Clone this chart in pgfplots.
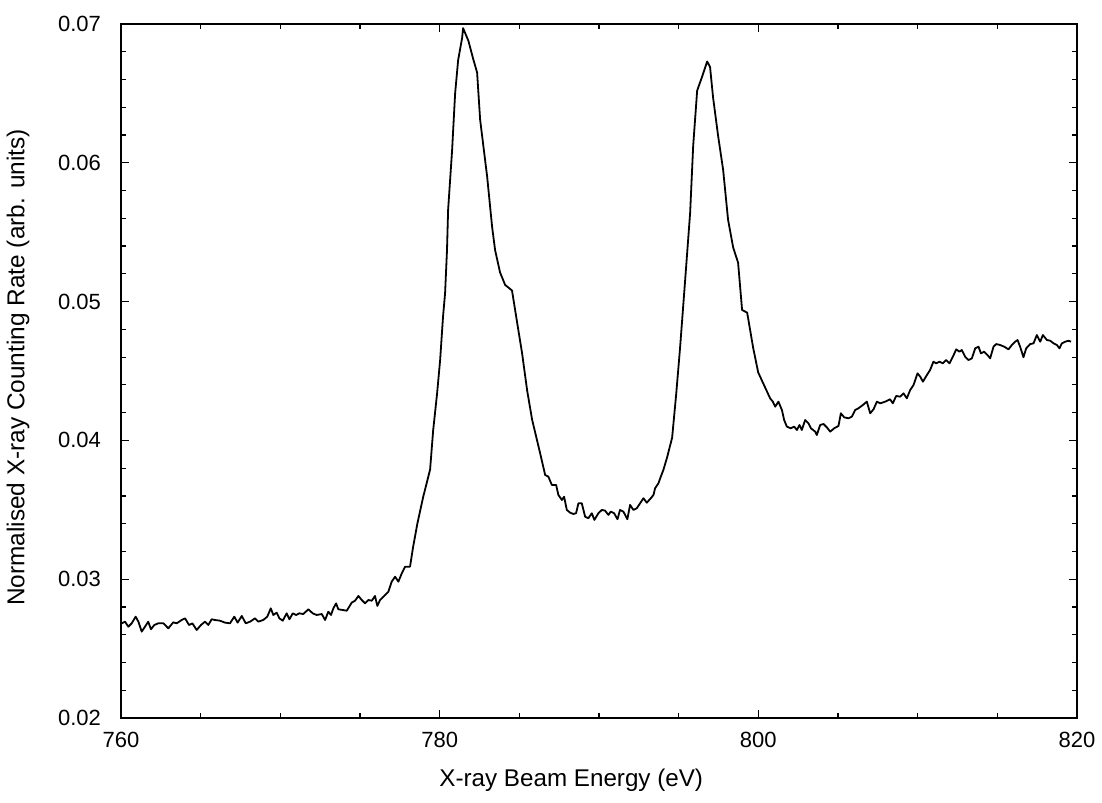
\documentclass[border=0pt]{standalone}
\usepackage{pgfplots}
\pgfplotsset{compat=1.18}
\usepackage{fontspec}
\setmainfont{Liberation Sans}
\usetikzlibrary{calc}
\pgfplotstableread{
E v
760.04 0.02682
760.25 0.02694
760.46 0.02658
760.67 0.02682
760.92 0.02730
761.09 0.02694
761.30 0.02622
761.51 0.02658
761.71 0.02694
761.88 0.02639
762.09 0.02670
762.34 0.02682
762.66 0.02682
762.97 0.02646
763.28 0.02689
763.50 0.02682
763.81 0.02706
764.02 0.02718
764.27 0.02670
764.48 0.02682
764.75 0.02634
765.02 0.02670
765.27 0.02694
765.48 0.02670
765.69 0.02711
765.90 0.02706
766.21 0.02701
766.53 0.02687
766.84 0.02682
767.11 0.02730
767.32 0.02687
767.58 0.02735
767.83 0.02682
768.10 0.02694
768.41 0.02718
768.62 0.02694
768.93 0.02706
769.18 0.02730
769.40 0.02790
769.56 0.02742
769.77 0.02759
769.94 0.02718
770.15 0.02701
770.40 0.02754
770.57 0.02711
770.78 0.02754
770.99 0.02742
771.19 0.02754
771.44 0.02749
771.76 0.02783
772.03 0.02754
772.28 0.02742
772.60 0.02749
772.81 0.02706
773.01 0.02766
773.18 0.02742
773.33 0.02790
773.50 0.02826
773.64 0.02783
773.92 0.02778
774.17 0.02773
774.48 0.02831
774.69 0.02845
774.90 0.02879
775.11 0.02850
775.32 0.02826
775.52 0.02850
775.74 0.02845
775.94 0.02879
776.09 0.02807
776.26 0.02850
776.57 0.02886
776.78 0.02910
776.99 0.02982
777.20 0.03018
777.41 0.02982
777.62 0.03042
777.83 0.03090
778.14 0.03090
778.33 0.03230
778.60 0.03400
778.96 0.03590
779.40 0.03790
779.59 0.04070
779.84 0.04340
780.03 0.04580
780.21 0.04890
780.34 0.05060
780.46 0.05370
780.53 0.05660
780.78 0.06090
780.97 0.06500
781.16 0.06740
781.41 0.06900
781.47 0.06970
781.80 0.06880
782.10 0.06750
782.35 0.06650
782.54 0.06310
782.98 0.05900
783.29 0.05540
783.48 0.05370
783.79 0.05210
784.11 0.05120
784.54 0.05080
784.86 0.04850
785.17 0.04630
785.49 0.04360
785.80 0.04150
786.30 0.03910
786.62 0.03751
786.82 0.03739
787.04 0.03679
787.31 0.03679
787.45 0.03607
787.67 0.03571
787.81 0.03594
787.98 0.03499
788.19 0.03479
788.39 0.03470
788.56 0.03475
788.71 0.03547
788.92 0.03547
789.13 0.03450
789.33 0.03439
789.55 0.03475
789.71 0.03427
789.96 0.03475
790.18 0.03499
790.38 0.03494
790.59 0.03463
790.74 0.03487
790.95 0.03475
791.16 0.03432
791.32 0.03499
791.53 0.03487
791.78 0.03432
791.95 0.03535
792.16 0.03499
792.37 0.03511
792.58 0.03547
792.79 0.03583
793.00 0.03551
793.25 0.03583
793.42 0.03607
793.52 0.03655
793.73 0.03691
793.88 0.03739
794.04 0.03787
794.28 0.03880
794.59 0.04020
794.85 0.04340
795.09 0.04670
795.41 0.05160
795.72 0.05640
795.91 0.06120
796.16 0.06520
796.47 0.06620
796.79 0.06730
796.97 0.06690
797.16 0.06470
797.48 0.06190
797.79 0.05950
798.10 0.05590
798.42 0.05390
798.73 0.05280
798.98 0.04940
799.30 0.04920
799.67 0.04670
799.99 0.04490
800.43 0.04380
800.74 0.04303
800.91 0.04279
801.06 0.04243
801.26 0.04279
801.48 0.04219
801.62 0.04147
801.79 0.04099
802.04 0.04087
802.25 0.04099
802.42 0.04075
802.58 0.04111
802.73 0.04075
802.94 0.04147
803.15 0.04123
803.30 0.04087
803.57 0.04063
803.67 0.04039
803.88 0.04111
804.09 0.04118
804.30 0.04094
804.51 0.04063
804.76 0.04087
805.03 0.04104
805.18 0.04195
805.39 0.04166
805.66 0.04159
805.87 0.04171
806.08 0.04219
806.28 0.04231
806.56 0.04255
806.81 0.04279
807.02 0.04195
807.23 0.04224
807.44 0.04279
807.65 0.04267
807.96 0.04279
808.27 0.04296
808.44 0.04267
808.65 0.04320
808.90 0.04315
809.11 0.04339
809.32 0.04303
809.53 0.04363
809.74 0.04399
809.99 0.04483
810.16 0.04459
810.33 0.04423
810.58 0.04471
810.78 0.04507
810.99 0.04567
811.16 0.04555
811.37 0.04567
811.58 0.04555
811.79 0.04579
812.00 0.04555
812.21 0.04603
812.42 0.04656
812.62 0.04639
812.77 0.04651
812.98 0.04603
813.19 0.04579
813.40 0.04591
813.61 0.04663
813.82 0.04675
813.97 0.04627
814.17 0.04639
814.38 0.04615
814.55 0.04591
814.76 0.04675
814.93 0.04694
815.18 0.04687
815.43 0.04675
815.70 0.04656
815.91 0.04687
816.12 0.04711
816.27 0.04723
816.43 0.04675
816.64 0.04599
816.81 0.04663
817.06 0.04694
817.27 0.04699
817.48 0.04759
817.69 0.04711
817.86 0.04759
818.11 0.04723
818.32 0.04718
818.53 0.04699
818.74 0.04687
818.90 0.04663
819.05 0.04699
819.26 0.04711
819.47 0.04718
819.62 0.04711
}\spectrum
\begin{document}
\begin{tikzpicture}
\begin{axis}[
  name=ax,
  at={(0,0)}, anchor=south west,
  scale only axis,
  width=478pt, height=347pt,
  xmin=760, xmax=820, ymin=0.02, ymax=0.07,
  xtick={760,780,800,820},
  ytick={0.02,0.03,0.04,0.05,0.06,0.07},
  yticklabels={0.02,0.03,0.04,0.05,0.06,0.07},
  scaled y ticks=false,
  minor x tick num=3,
  minor y tick num=4,
  tick align=inside,
  major tick length=4pt,
  minor tick length=2.5pt,
  axis line style={line width=1pt},
  every tick/.style={black, line width=0.6pt},
  /pgf/number format/assume math mode=true,
  tick label style={font=\fontsize{11}{13}\selectfont},
  xticklabel style={yshift=-3.5pt},
  yticklabel style={xshift=-6.5pt},
  xlabel={X-ray Beam Energy (eV)},
  ylabel={Normalised X-ray Counting Rate (arb. units)},
  every axis x label/.style={at={(axis description cs:0.471,-0.0893)}, anchor=center, font=\fontsize{12.1}{14}\selectfont},
  every axis y label/.style={at={(axis description cs:-0.1077,0.505)}, rotate=90, anchor=center, font=\fontsize{12.2}{14}\selectfont},
]
\addplot[black, line width=0.9pt, line join=round] table[x=E, y=v] {\spectrum};
\end{axis}
\pgfresetboundingbox
\path ($(ax.south west)+(-60.5pt,-42.5pt)$) rectangle ($(ax.north east)+(12.5pt,12pt)$);
\end{tikzpicture}
\end{document}
